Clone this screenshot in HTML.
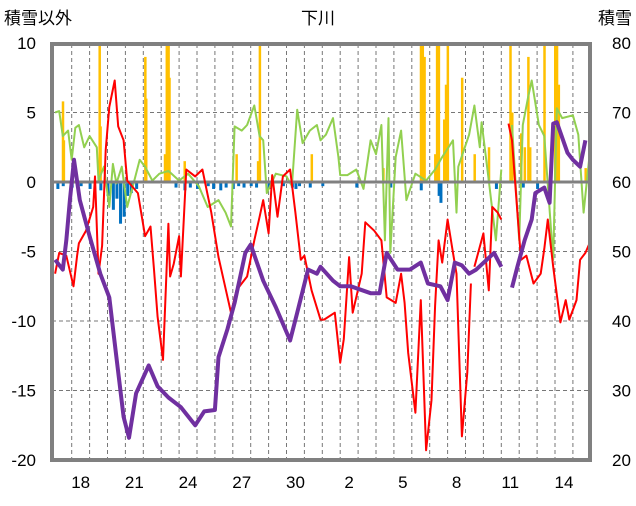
<!DOCTYPE html>
<html><head><meta charset="utf-8"><style>
body{margin:0;background:#fff;width:636px;height:501px;overflow:hidden}
svg text{font-family:"Liberation Sans","Noto Sans CJK JP",sans-serif;font-size:17px;fill:#000}
</style></head><body>
<svg id="chart" width="636" height="501" viewBox="0 0 636 501" xmlns="http://www.w3.org/2000/svg">
<text x="4" y="24">積雪以外</text>
<text x="318" y="24" text-anchor="middle">下川</text>
<text x="632" y="24" text-anchor="end">積雪</text>
<g id="grid"></g><g id="bars"></g><g id="lines"></g><g id="axes"></g>
</svg>
<script>
const leftTicks=[10,5,0,-5,-10,-15,-20];
const rightTicks=[80,70,60,50,40,30,20];
const dayLabels=["18","21","24","27","30","2","5","8","11","14"];
const dayLabelPos=[1.5,4.5,7.5,10.5,13.5,16.5,19.5,22.5,25.5,28.5];
const redT=[0.07,0.3,0.7,1.1,1.3,1.4,1.8,2.2,2.3,2.5,2.7,2.9,3.1,3.4,3.6,3.9,4.1,4.7,5.1,5.4,5.6,5.8,6.1,6.4,6.5,6.7,7.0,7.1,7.4,7.9,8.3,8.8,9.2,9.5,9.9,10.2,10.8,11.2,11.5,11.7,12.0,12.2,12.5,12.8,13.2,13.5,13.8,14.0,14.4,14.9,15.1,15.7,16.0,16.2,16.5,16.7,17.2,17.4,17.9,18.3,18.6,19.1,19.4,19.6,19.8,20.2,20.5,20.8,21.1,21.3,21.5,21.7,22.0,22.3,22.5,22.8,23.1,23.3,23.4,23.5,24.0,24.3,24.5,24.8,25.0,25.2,25.4,25.6,25.9,26.1,26.4,26.8,27.2,27.4,27.6,27.9,28.3,28.6,28.8,29.2,29.4,29.7,30.0];
const redV=[-6.6,-5.1,-5.3,-7.5,-5.3,-4.4,-3.5,-1.8,0.4,-6.6,-4.6,2.3,5.4,7.3,4.0,3.0,0.1,-0.8,-3.9,-3.2,-6.3,-9.7,-12.8,-3.0,-6.8,-5.9,-3.9,-6.8,0.9,0.4,0.9,-2.2,-5.4,-7.1,-9.4,-7.8,-6.8,-4.2,-2.5,-1.3,-3.7,0.5,-2.5,0.4,0.9,-2.2,-5.6,-5.3,-7.8,-9.9,-9.9,-9.4,-13.0,-11.3,-5.4,-9.4,-6.6,-2.9,-3.5,-4.2,-8.3,-8.7,-6.6,-8.7,-12.3,-16.6,-8.5,-19.3,-15.7,-8.9,-4.2,-5.8,-2.7,-5.1,-6.6,-18.3,-13.7,-7.3,null,-6.1,-3.7,-7.8,-1.8,-2.2,-2.7,null,4.2,3.0,-2.2,-5.6,-5.3,-7.3,-6.6,-4.8,-2.7,-6.1,-10.1,-8.5,-9.9,-8.5,-5.6,-5.1,-4.2];
const greenT=[0.07,0.3,0.5,0.8,1.0,1.2,1.4,1.7,2.0,2.4,2.5,2.8,3.1,3.3,3.5,3.8,4.1,4.5,4.8,5.1,5.5,5.9,6.4,7.0,7.5,8.1,8.6,9.2,9.6,9.9,10.1,10.5,10.8,11.2,11.5,11.7,11.9,12.4,13.0,13.3,13.6,13.9,14.3,14.7,14.9,15.2,15.6,15.9,16.0,16.4,16.9,17.3,17.7,18.0,18.3,18.5,18.7,18.8,19.1,19.4,19.7,20.2,20.8,21.3,21.7,22.3,22.5,22.6,23.2,23.5,23.8,23.9,24.3,24.7,25.0,25.3,25.6,26.0,26.2,26.5,26.7,27.1,27.4,27.9,28.1,28.4,29.0,29.3,29.6,30.0];
const greenV=[5.0,5.1,3.3,3.7,1.6,3.9,4.1,2.5,3.3,2.5,0.1,1.1,-1.8,1.3,-0.1,1.1,-1.8,0.1,1.6,1.1,0.1,0.6,0.8,0.1,0.6,-0.3,-1.8,-1.3,-2.2,-3.2,4.0,3.7,4.1,5.5,3.3,3.0,-0.8,0.6,0.4,-0.3,5.2,2.8,3.7,4.1,3.0,3.4,4.6,1.8,0.5,0.5,0.9,-0.5,3.0,2.0,4.1,-4.2,4.6,-5.1,1.8,3.7,-1.3,0.6,0.1,0.9,1.8,3.0,-2.2,1.1,3.4,5.5,2.5,4.3,0.1,-4.2,0.9,null,4.1,-4.2,4.1,6.1,7.3,4.1,3.3,-5.6,5.3,4.6,4.8,3.4,-2.2,2.8];
const snowT=[0.07,0.5,0.7,0.9,1.13,1.45,2.0,2.6,3.1,3.5,3.9,4.2,4.6,5.3,5.8,6.4,7.1,7.9,8.4,9.0,9.2,9.7,10.1,10.7,11.0,11.7,12.4,13.2,13.6,14.2,14.7,14.9,15.6,16.0,16.6,17.7,18.2,18.6,19.2,19.9,20.5,20.9,21.6,22.0,22.4,22.8,23.2,23.6,24.6,25.0,25.3,25.6,25.9,26.3,26.7,26.9,27.4,27.7,27.9,28.1,28.7,29.0,29.4,29.7];
const snowV=[48.8,47.4,51.6,57.4,63.2,57.4,52.2,46.8,43.4,34.8,26.2,23.2,29.6,33.6,30.6,29.0,27.6,25.0,27.0,27.2,34.8,38.8,42.6,49.8,51.0,45.8,42.0,37.2,41.2,47.4,46.8,47.8,45.8,45.0,45.0,44.0,44.0,49.8,47.4,47.4,48.4,45.4,45.0,43.0,48.4,48.0,46.8,47.4,49.8,47.8,null,44.8,47.8,51.6,54.6,58.4,59.2,57.0,68.4,68.6,64.2,63.2,62.2,66.0];
const barT=[0.5,0.55,2.55,2.6,5.1,5.15,6.2,6.3,6.4,6.45,7.3,10.2,11.4,11.5,14.4,18.4,20.5,20.6,20.7,21.3,21.4,21.5,21.8,21.9,22.0,22.8,23.5,24.3,25.5,25.6,26.1,26.3,26.5,26.6,27.4,28.0,28.1,28.2,29.7];
const barV=[5.8,3.0,10,4.0,9.0,6.0,2.0,10,10,7.5,1.5,2.0,1.5,10,2.0,1.0,10,10,9,2.0,10,10,4.5,7.0,10,7.5,2.0,2.5,10,5.0,3.5,2.5,9,2.5,10,10,10,7.0,1.0];
const negT=[0.2,0.5,1.0,1.5,2.0,2.6,3.0,3.3,3.5,3.7,3.9,4.1,4.3,4.6,6.8,7.3,7.6,8.0,8.6,8.9,9.3,9.6,10.0,10.3,10.6,11.0,11.3,12.0,12.8,13.3,13.5,13.7,14.3,15.0,16.9,18.8,20.5,21.5,21.6,24.7,26.2,27.0];
const negV=[-0.5,-0.3,-0.4,-0.3,-0.5,-0.6,-1.0,-2.0,-1.2,-3.0,-2.5,-1.0,-0.8,-0.5,-0.4,-0.6,-0.4,-0.5,-0.3,-0.5,-0.6,-0.4,-0.5,-0.3,-0.4,-0.3,-0.4,-0.5,-0.3,-0.4,-0.5,-0.3,-0.4,-0.3,-0.4,-0.4,-0.6,-1.0,-1.5,-0.5,-0.4,-0.5];
const X0=53.8,DX=17.9,Y0=182,DY=13.9,L=52,R=590,T=44,B=460;
const xs=t=>X0+DX*t, yl=v=>Y0-DY*v, ys=s=>yl((s-60)/2);
const NS="http://www.w3.org/2000/svg";
function mk(tag,attrs,parent){const e=document.createElementNS(NS,tag);for(const k in attrs)e.setAttribute(k,attrs[k]);parent.appendChild(e);return e;}
const grid=document.getElementById('grid'),bars=document.getElementById('bars'),lines=document.getElementById('lines'),axes=document.getElementById('axes');
for(let d=1;d<30;d++){const l=mk('line',{x1:xs(d),x2:xs(d),y1:T,y2:B,stroke:'#777','stroke-dasharray':'4,3','stroke-width':1},grid);

}
leftTicks.forEach(v=>{if(v===10||v===-20||v===0)return;const l=mk('line',{x1:L,x2:R,y1:yl(v),y2:yl(v),stroke:'#777','stroke-dasharray':'4,3','stroke-width':1},grid);

});
barT.forEach((t,i)=>{const h=Math.min(barV[i],10.3);const r=mk('rect',{x:xs(t)-1,y:yl(h),width:2.5,height:yl(0)-yl(h),fill:'#ffc000'},bars);

});
negT.forEach((t,i)=>{const r=mk('rect',{x:xs(t)-1,y:yl(0),width:3,height:yl(negV[i])-yl(0),fill:'#0070c0'},bars);

});
function path(ts,vs,f){let d='',pen=false;ts.forEach((t,i)=>{if(vs[i]===null){pen=false;return;}d+=(pen?'L':'M')+xs(t).toFixed(1)+','+f(vs[i]).toFixed(1);pen=true;});return d;}
const g=mk('path',{d:path(greenT,greenV,yl),fill:'none',stroke:'#92d050','stroke-width':2,'stroke-linejoin':'round'},lines);


const z=mk('line',{x1:L,x2:R,y1:yl(0),y2:yl(0),stroke:'#808080','stroke-width':3},lines);


const rd=mk('path',{d:path(redT,redV,yl),fill:'none',stroke:'#ff0000','stroke-width':2,'stroke-linejoin':'round'},lines);


const sn=mk('path',{d:path(snowT,snowV,ys),fill:'none',stroke:'#7030a0','stroke-width':4,'stroke-linejoin':'round'},lines);


const fr=mk('rect',{x:L,y:T,width:R-L,height:B-T,fill:'none',stroke:'#808080','stroke-width':4},axes);


leftTicks.forEach(v=>{const e=mk('text',{x:36,y:yl(v)+6,'text-anchor':'end'},axes);e.textContent=v;

});
rightTicks.forEach(v=>{const e=mk('text',{x:612,y:ys(v)+6},axes);e.textContent=v;

});
dayLabels.forEach((s,i)=>{const e=mk('text',{x:xs(dayLabelPos[i]),y:488,'text-anchor':'middle'},axes);e.textContent=s;

});
</script>
</body></html>
